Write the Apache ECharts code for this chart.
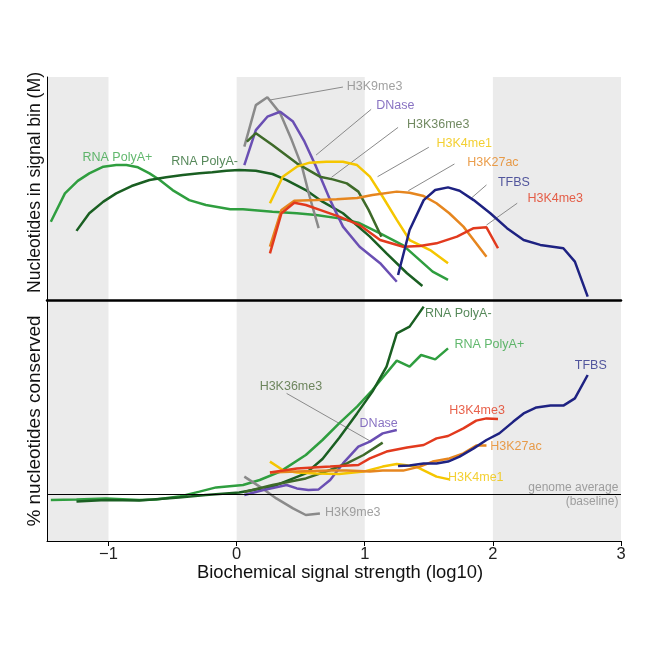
<!DOCTYPE html>
<html><head><meta charset="utf-8">
<script src="https://cdn.jsdelivr.net/npm/echarts@6/dist/echarts.min.js"></script>
<style>html,body{margin:0;padding:0;background:#fff}#c{width:650px;height:650px}</style>
</head><body><div id="c"></div>
<script>
// ---- data (x = log10 signal strength) ----
const xTicks = [-1, 0, 1, 2, 3];
const shadedBands = [[-1.48, -1], [0, 1], [2, 3]];
// top panel: nucleotides in signal bin (arbitrary scale 0..100)
const polyAPlusTop = [[-1.45,35.1],[-1.34,47.8],[-1.24,53.4],[-1.15,56.8],[-1.04,59.8],[-0.94,60.5],[-0.86,60.5],[-0.77,59.5],[-0.68,56.8],[-0.60,53.8],[-0.50,49.3],[-0.37,44.8],[-0.24,42.6],[-0.05,40.7],[0.05,40.7],[0.28,39.6],[0.47,38.9],[0.62,38.1],[0.80,36.6],[0.95,34.7],[1.12,29.9],[1.30,24.5],[1.53,12.7],[1.65,9.0]];
const polyAMinusTop = [[-1.25,31.0],[-1.15,38.9],[-1.04,44.1],[-0.94,47.8],[-0.82,51.1],[-0.68,53.8],[-0.55,55.0],[-0.42,56.1],[-0.29,56.8],[-0.19,57.3],[-0.08,58.0],[0.02,58.3],[0.15,58.0],[0.28,56.5],[0.39,53.8],[0.54,49.3],[0.67,44.1],[0.83,38.9],[1.04,28.4],[1.17,20.9],[1.33,12.0],[1.45,6.3]];
const h3k9me3Top = [[0.06,68.8],[0.15,87.4],[0.24,90.9],[0.34,83.7],[0.43,71.7],[0.51,59.8],[0.57,46.3],[0.64,32.2]];
const dnaseTop = [[0.06,60.5],[0.15,76.2],[0.24,82.2],[0.34,84.4],[0.44,80.0],[0.53,71.0],[0.62,59.8],[0.73,44.8],[0.83,32.9],[0.96,23.9],[1.12,16.5],[1.25,8.2]];
const h3k36me3Top = [[0.08,71.0],[0.15,74.8],[0.28,69.5],[0.47,61.3],[0.65,55.3],[0.75,54.1],[0.86,52.3],[0.95,48.6],[1.03,40.4],[1.13,28.4]];
const h3k4me1Top = [[0.26,43.4],[0.36,55.3],[0.47,59.8],[0.57,61.6],[0.70,62.0],[0.83,62.0],[0.94,60.5],[1.04,55.3],[1.14,46.3],[1.25,35.9],[1.35,26.9],[1.51,22.4],[1.65,16.5]];
const h3k27acTop = [[0.26,23.9],[0.35,40.4],[0.45,44.5],[0.62,44.8],[0.78,45.2],[0.94,45.7],[1.06,47.1],[1.25,48.6],[1.35,48.1],[1.46,46.6],[1.56,43.4],[1.66,38.9],[1.77,32.9],[1.85,26.9],[1.95,19.4]];
const h3k4me3Top = [[0.26,20.9],[0.35,38.9],[0.45,43.6],[0.54,42.6],[0.65,40.4],[0.80,37.4],[0.96,33.6],[1.12,26.9],[1.30,23.9],[1.43,24.2],[1.56,25.4],[1.72,28.4],[1.85,32.2],[1.95,32.6],[2.04,23.2]];
const tfbsTop = [[1.26,11.2],[1.35,31.4],[1.46,44.8],[1.55,49.3],[1.65,50.5],[1.74,49.0],[1.85,44.8],[1.98,38.9],[2.11,32.2],[2.24,26.9],[2.37,24.7],[2.55,23.2],[2.64,17.2],[2.74,1.5]];
// bottom panel: % nucleotides conserved relative to genome average (0 = baseline)
const polyAPlusBot = [[-1.45,-3],[-1.25,-2.7],[-1.02,-2.3],[-0.76,-3],[-0.63,-2.7],[-0.45,-1.3],[-0.29,1.2],[-0.16,3.3],[0.05,4.5],[0.18,7],[0.34,11.2],[0.54,19.5],[0.67,27],[0.80,35.3],[0.94,43.7],[1.06,52],[1.25,66.7],[1.35,63.7],[1.44,69.5],[1.55,67.3],[1.65,72.8]];
const polyAMinusBot = [[-1.25,-3.8],[-1.02,-3],[-0.76,-3.3],[-0.45,-1.7],[-0.24,-0.5],[0.02,0.7],[0.28,3.7],[0.54,10.3],[0.67,17.5],[0.80,28],[0.94,40.3],[1.06,51.2],[1.17,63.7],[1.25,80.3],[1.35,83.7],[1.46,93.7]];
const h3k9me3Bot = [[0.06,8.7],[0.18,3.7],[0.31,-2.2],[0.44,-7.2],[0.54,-10.5],[0.65,-9.7]];
const dnaseBot = [[0.06,-0.5],[0.21,2],[0.39,4.5],[0.47,2.8],[0.56,2],[0.64,2.3],[0.73,7],[0.83,15.3],[0.95,23.7],[1.04,26.2],[1.14,30.3],[1.25,32]];
const h3k36me3Bot = [[0.06,1],[0.28,4.5],[0.54,7.8],[0.73,12],[0.86,15.3],[0.99,19.5],[1.14,25.7]];
const h3k4me1Bot = [[0.26,16.2],[0.36,12],[0.47,10.7],[0.62,10.3],[0.80,10],[0.99,11.2],[1.14,13.7],[1.25,15],[1.40,13.7],[1.48,11.2],[1.56,8.7],[1.66,7.3]];
const h3k27acBot = [[0.26,10.7],[0.47,11.2],[0.73,11.7],[0.86,11.7],[1.04,11.2],[1.14,11.7],[1.30,11.7],[1.43,13.7],[1.53,16.2],[1.66,17.8],[1.77,20.3],[1.87,24.2],[1.95,24.2]];
const h3k4me3Bot = [[0.26,10.7],[0.47,12.8],[0.73,13.7],[0.95,14.5],[1.04,17.8],[1.17,21.2],[1.33,23.2],[1.46,24.5],[1.56,27.8],[1.65,29],[1.77,32.8],[1.87,36.7],[1.95,37.8],[2.04,37.5]];
const tfbsBot = [[1.26,14],[1.35,14.2],[1.46,15.3],[1.56,15.3],[1.65,16.2],[1.74,18.7],[1.85,22.8],[1.95,27],[2.05,30.3],[2.16,36.2],[2.24,40.3],[2.34,43.3],[2.45,44.3],[2.55,44.2],[2.64,47.8],[2.74,59.5]];

// ---- styling / layout ----
const C = {
  polyAPlus: '#2f9e3f', polyAMinus: '#1a5f22', h3k9me3: '#8a8a8a', dnase: '#6a4fb3',
  h3k36me3: '#3e6a29', h3k4me1: '#f5c600', h3k27ac: '#e6861f', h3k4me3: '#e23a1e', tfbs: '#1e2282'
};
const TXT = {
  polyAPlus: '#3aa648', polyAMinus: '#2a6a30', h3k9me3: '#8a8a8a', dnase: '#6a4fb3',
  h3k36me3: '#4d6b3a', h3k4me1: '#f0c400', h3k27ac: '#e6861f', h3k4me3: '#e23a1e', tfbs: '#2a3088'
};
const FONT = '"Liberation Sans", Arial, sans-serif';
const XMIN = -1.48, XMAX = 3;

const topSeries = [
  ['polyAPlus', polyAPlusTop], ['polyAMinus', polyAMinusTop], ['h3k9me3', h3k9me3Top],
  ['dnase', dnaseTop], ['h3k36me3', h3k36me3Top], ['h3k4me1', h3k4me1Top],
  ['h3k27ac', h3k27acTop], ['h3k4me3', h3k4me3Top], ['tfbs', tfbsTop]
];
const botSeries = [
  ['polyAPlus', polyAPlusBot], ['polyAMinus', polyAMinusBot], ['h3k9me3', h3k9me3Bot],
  ['dnase', dnaseBot], ['h3k36me3', h3k36me3Bot], ['h3k4me1', h3k4me1Bot],
  ['h3k27ac', h3k27acBot], ['h3k4me3', h3k4me3Bot], ['tfbs', tfbsBot]
];
// annotation placement: [key, text, x, y, align]
const topLabels = [
  ['polyAPlus','RNA PolyA+',-0.93,63.7,'center'],
  ['polyAMinus','RNA PolyA-',-0.25,61.9,'center'],
  ['h3k9me3','H3K9me3',0.86,95.5,'left'],
  ['dnase','DNase',1.09,87.0,'left'],
  ['h3k36me3','H3K36me3',1.33,78.5,'left'],
  ['h3k4me1','H3K4me1',1.56,70.0,'left'],
  ['h3k27ac','H3K27ac',1.80,61.4,'left'],
  ['tfbs','TFBS',2.04,52.5,'left'],
  ['h3k4me3','H3K4me3',2.27,45.3,'left']
];
const topLeaders = [
  [[0.26,89.7],[0.83,95.5]], [[0.62,65.0],[1.05,85.5]], [[0.74,55.0],[1.26,77.4]],
  [[1.10,55.3],[1.50,68.5]], [[1.34,49.0],[1.70,61.0]], [[1.83,45.6],[1.95,51.6]],
  [[1.95,33.6],[2.19,43.4]]
];
const botLabels = [
  ['polyAMinus','RNA PolyA-',1.47,90,'left'],
  ['polyAPlus','RNA PolyA+',1.70,74.5,'left'],
  ['tfbs','TFBS',2.64,64,'left'],
  ['h3k4me3','H3K4me3',1.66,41.5,'left'],
  ['h3k27ac','H3K27ac',1.98,23.5,'left'],
  ['h3k4me1','H3K4me1',1.65,8,'left'],
  ['dnase','DNase',0.96,35,'left'],
  ['h3k36me3','H3K36me3',0.18,53.5,'left'],
  ['h3k9me3','H3K9me3',0.69,-9.5,'left']
];
const botLeaders = [ [[0.39,50.3],[1.05,26.2]] ];
const baselineText = [['genome average',2.98,3],['(baseline)',2.98,-4]];

const chart = echarts.init(document.getElementById('c'), null, {renderer:'canvas'});
const series = [];
[0,1].forEach(g => {
  series.push({
    type:'line', xAxisIndex:g, yAxisIndex:g, data:[], silent:true, z:0,
    markArea:{ silent:true, itemStyle:{color:'#ebebeb'},
      data: shadedBands.map(b => [{xAxis:b[0]},{xAxis:b[1]}]) },
    markLine: g === 1 ? { silent:true, symbol:['none','none'], label:{show:false},
      lineStyle:{color:'#000', width:1, type:'solid'}, data:[{yAxis:0}] } : undefined
  });
});
function addLines(list, g) {
  list.forEach(([k, d]) => series.push({
    type:'line', xAxisIndex:g, yAxisIndex:g, data:d, showSymbol:false, symbol:'none',
    smooth:false, z:3, lineStyle:{color:C[k], width:2.5}, silent:true
  }));
}
addLines(topSeries, 0); addLines(botSeries, 1);
function addLeaders(list, g) {
  series.push({ type:'lines', coordinateSystem:'cartesian2d', xAxisIndex:g, yAxisIndex:g, z:2, silent:true,
    lineStyle:{color:'#8a8a8a', width:1, opacity:1}, data: list.map(c => ({coords:c})) });
}
addLeaders(topLeaders, 0); addLeaders(botLeaders, 1);
function addLabels(list, g) {
  series.push({ type:'scatter', xAxisIndex:g, yAxisIndex:g, symbolSize:0.1, z:4, silent:true,
    itemStyle:{color:'transparent'},
    data: list.map(([k,t,x,y,al]) => ({ value:[x,y], name:t,
      label:{ show:true, position:[0,0], formatter:t, align:al, verticalAlign:'middle',
        color:TXT[k], fontSize:12.5, fontFamily:FONT } })) });
}
addLabels(topLabels, 0); addLabels(botLabels, 1);
series.push({ type:'scatter', xAxisIndex:1, yAxisIndex:1, symbolSize:0.1, z:4, silent:true,
  itemStyle:{color:'transparent'},
  data: baselineText.map(([t,x,y]) => ({ value:[x,y],
    label:{ show:true, position:[0,0], formatter:t, align:'right', verticalAlign:'middle',
      color:'#8a8a8a', fontSize:12, fontFamily:FONT } })) });

chart.setOption({
  animation:false,
  backgroundColor:'#fff',
  grid:[
    {left:47, right:29, top:77, height:223, containLabel:false},
    {left:47, right:29, top:301, height:240, containLabel:false}
  ],
  xAxis:[
    {type:'value', gridIndex:0, min:XMIN, max:XMAX, splitLine:{show:false}, z:10,
      axisLine:{show:true, onZero:false, lineStyle:{color:'#000', width:2.5}},
      axisTick:{show:false}, axisLabel:{show:false}},
    {type:'value', gridIndex:1, min:XMIN, max:XMAX, splitLine:{show:false}, z:10,
      axisLine:{show:true, onZero:false, lineStyle:{color:'#000', width:1}},
      axisTick:{show:true, length:5, lineStyle:{color:'#000'}, customValues:xTicks},
      axisLabel:{show:true, customValues:xTicks, fontSize:16.5, color:'#222', fontFamily:FONT, margin:5,
        formatter: v => String(v).replace('-', '\u2212')},
      name:'Biochemical signal strength (log10)', nameLocation:'middle', nameGap:20,
      nameTextStyle:{fontSize:18.4, color:'#111', fontFamily:FONT, padding:[0,0,0,12]}}
  ],
  yAxis:[
    {type:'value', gridIndex:0, min:0, max:100, splitLine:{show:false}, z:10,
      axisLine:{show:true, onZero:false, lineStyle:{color:'#000', width:1}}, axisTick:{show:false}, axisLabel:{show:false},
      name:'Nucleotides in signal bin (M)', nameLocation:'middle', nameGap:3, nameRotate:90,
      nameTextStyle:{fontSize:17.6, color:'#111', fontFamily:FONT, padding:[0,0,0,12]}},
    {type:'value', gridIndex:1, min:-23.5, max:96.5, splitLine:{show:false}, z:10,
      axisLine:{show:true, onZero:false, lineStyle:{color:'#000', width:1}}, axisTick:{show:false}, axisLabel:{show:false},
      name:'% nucleotides conserved', nameLocation:'middle', nameGap:3, nameRotate:90,
      nameTextStyle:{fontSize:19, color:'#111', fontFamily:FONT}}
  ],
  series: series
});
</script></body></html>
